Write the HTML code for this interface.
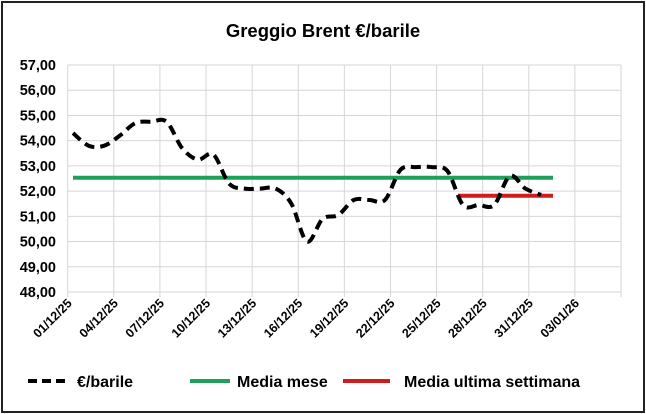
<!DOCTYPE html>
<html><head><meta charset="utf-8"><style>
body{margin:0;background:#fff}
svg{display:block;font-family:"Liberation Sans",Arial,sans-serif;font-weight:bold}
</style></head><body>
<svg id="s" width="646" height="414" viewBox="0 0 646 414">
<rect x="0" y="0" width="646" height="414" fill="#fff"/>
<rect x="2" y="2" width="642" height="410" fill="none" stroke="#222" stroke-width="2"/>
<text x="323" y="37" text-anchor="middle" font-size="18.5">Greggio Brent €/barile</text>
<g id="grid" stroke="#d6d6d6" stroke-width="1"></g>
<g id="ylab" font-size="14.5" text-anchor="end"></g>
<g id="xlab" font-size="12.5" text-anchor="end"></g>
<line x1="73" y1="177.7" x2="553" y2="177.7" stroke="#1fa05a" stroke-width="4"/>
<line x1="458" y1="195.7" x2="553" y2="195.7" stroke="#d01c1c" stroke-width="4"/>
<path id="ser" fill="none" stroke="#000" stroke-width="4" stroke-dasharray="10,6"/>
<line x1="28" y1="381" x2="68" y2="381" stroke="#000" stroke-width="4" stroke-dasharray="9,5"/>
<text x="77" y="387" font-size="16">€/barile</text>
<line x1="190" y1="381" x2="230" y2="381" stroke="#1fa05a" stroke-width="4"/>
<text x="237" y="387" font-size="16">Media mese</text>
<line x1="343" y1="381" x2="390" y2="381" stroke="#d01c1c" stroke-width="4"/>
<text x="404" y="387" font-size="16">Media ultima settimana</text>
</svg>
<script>
var ns="http://www.w3.org/2000/svg";
var L=67.7,R=621,T=65,B=292;
var g=document.getElementById('grid'),yl=document.getElementById('ylab'),xl=document.getElementById('xlab');
function el(p,t,a,tx){var e=document.createElementNS(ns,t);for(var k in a)e.setAttribute(k,a[k]);if(tx)e.textContent=tx;p.appendChild(e);return e;}
for(var i=0;i<=9;i++){var y=T+(B-T)*i/9;el(g,'line',{x1:L,x2:R,y1:y,y2:y});el(yl,'text',{x:56,y:y+5},(57-i)+',00');}
var labs=['01/12/25','04/12/25','07/12/25','10/12/25','13/12/25','16/12/25','19/12/25','22/12/25','25/12/25','28/12/25','31/12/25','03/01/26'];
for(var i=0;i<=12;i++){var x=L+(R-L)*i/12;el(g,'line',{x1:x,x2:x,y1:T,y2:B+5});if(i<12){el(xl,'text',{x:x+5,y:B+12,transform:'rotate(-45 '+(x+5)+' '+(B+12)+')'},labs[i]);}}
var v=[54.3,53.8,53.8,54.2,54.7,54.75,54.75,53.7,53.25,53.45,52.3,52.1,52.1,52.1,51.5,50.0,50.9,51.05,51.65,51.65,51.65,52.85,52.95,52.95,52.8,51.45,51.45,51.45,52.6,52.1,51.85];
var P=v.map(function(val,d){return [73+15.6*d,T+(57-val)*(B-T)/9];});
var d='M'+P[0][0]+' '+P[0][1];
for(var i=0;i<P.length-1;i++){var p0=P[Math.max(i-1,0)],p1=P[i],p2=P[i+1],p3=P[Math.min(i+2,P.length-1)];
var c1=[p1[0]+(p2[0]-p0[0])/6,p1[1]+(p2[1]-p0[1])/6],c2=[p2[0]-(p3[0]-p1[0])/6,p2[1]-(p3[1]-p1[1])/6];
d+=' C'+c1[0]+' '+c1[1]+' '+c2[0]+' '+c2[1]+' '+p2[0]+' '+p2[1];}
document.getElementById('ser').setAttribute('d',d);
</script>
</body></html>
